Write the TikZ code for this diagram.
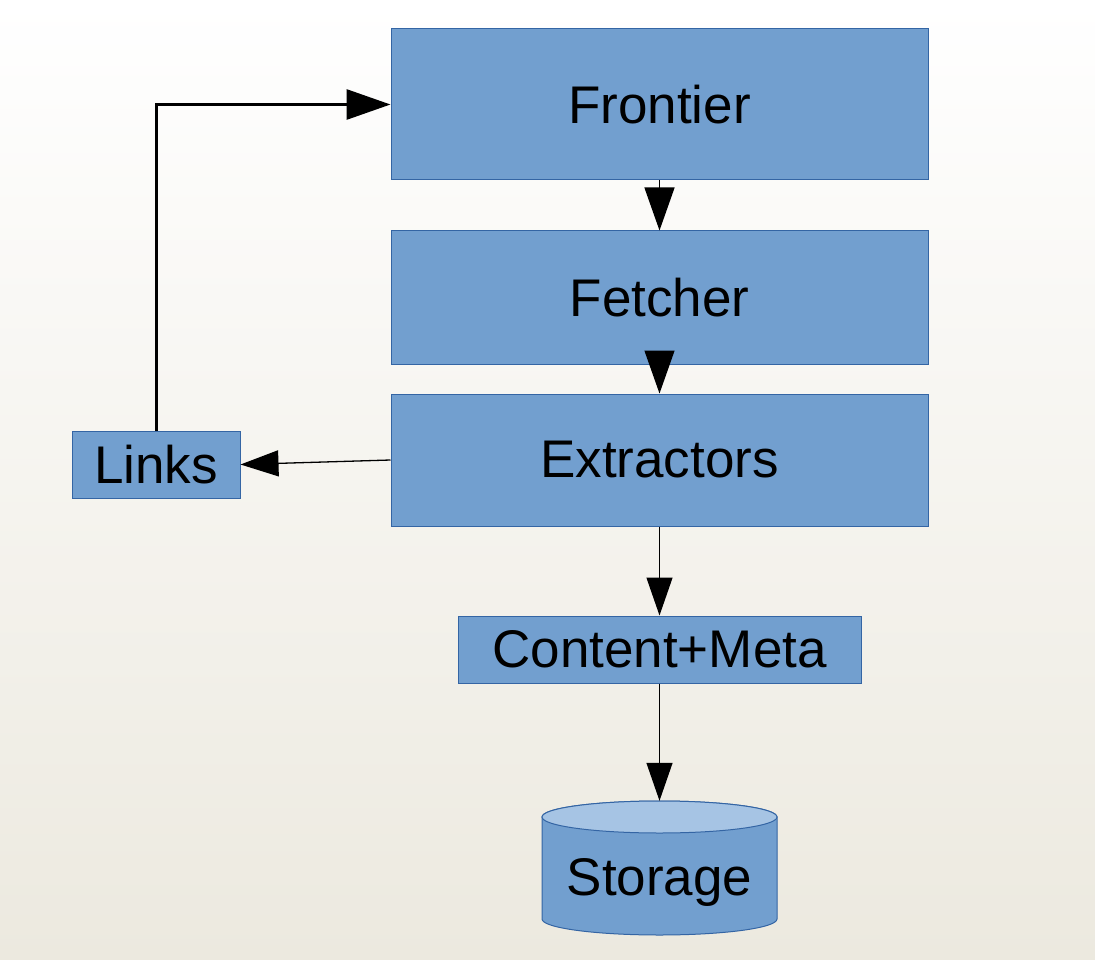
\documentclass[tikz,border=0pt]{standalone}
\usepackage{fontspec}
\setmainfont{Liberation Sans}
\usetikzlibrary{arrows.meta,positioning}

\definecolor{boxfill}{HTML}{729FCF}
\definecolor{boxline}{HTML}{3465A4}
\definecolor{boxtop}{HTML}{A6C4E4}
\definecolor{bgbottom}{HTML}{ECE9DF}

\tikzset{
	block/.style={shape=rectangle, fill=boxfill, draw=boxline, line width=1pt, inner sep=0pt,
		font=\fontsize{53}{63}\selectfont},
	flow/.style={draw=black, line width=1.3pt, -{Triangle[length=38pt,width=26pt]}},
	bigflow/.style={draw=black, line width=1.3pt, -{Triangle[length=43pt,width=30pt]}},
	loopflow/.style={draw=black, line width=3pt, -{Triangle[length=44pt,width=30pt]}}
}

\begin{document}
\begin{tikzpicture}[x=1pt,y=-1pt]
	\shade[top color=white, bottom color=bgbottom] (0,0) rectangle (1095,960);
	\useasboundingbox (0,0) rectangle (1095,960);

	\node[block, minimum width=537pt, minimum height=151pt] (frontier) at (659.5,104.5) {Frontier};
	\node[block, minimum width=537pt, minimum height=133pt] (fetcher) at (659.5,297.5) {Fetcher};
	\node[block, minimum width=537pt, minimum height=132pt] (extractors) at (659.5,460) {Extractors};
	\node[block, minimum width=168pt, minimum height=67pt] (links) at (156,464.5) {Links};
	\node[block, minimum width=403pt, minimum height=67pt] (content) at (659.5,649.5) {Content+Meta};

	% storage drum
	\path[fill=boxfill, draw=boxline, line width=1pt] (542,817) -- (542,919)
		arc[start angle=180, end angle=360, x radius=117.5pt, y radius=16pt] -- (777,817)
		arc[start angle=0, end angle=180, x radius=117.5pt, y radius=16pt] -- cycle;
	\path[fill=boxtop, draw=boxline, line width=1pt] (659.5,817) ellipse[x radius=117.5pt, y radius=16pt];
	\node[shape=rectangle, inner sep=0pt, minimum width=235pt, minimum height=134pt] (storage) at (659.5,868) {};
	\node[font=\fontsize{53}{63}\selectfont] (storagetext) at (659.5,882) {Storage};

	\draw [bigflow] (frontier) -- (fetcher);
	\draw [bigflow, shorten <=-14pt] (fetcher) -- (extractors);
	\draw [flow] (extractors) -- (content);
	\draw [flow] (content) -- (storage);
	\draw [flow] (extractors.west) -- (links.east);
	\draw [loopflow] (links.north) |- (frontier.west);
\end{tikzpicture}
\end{document}
